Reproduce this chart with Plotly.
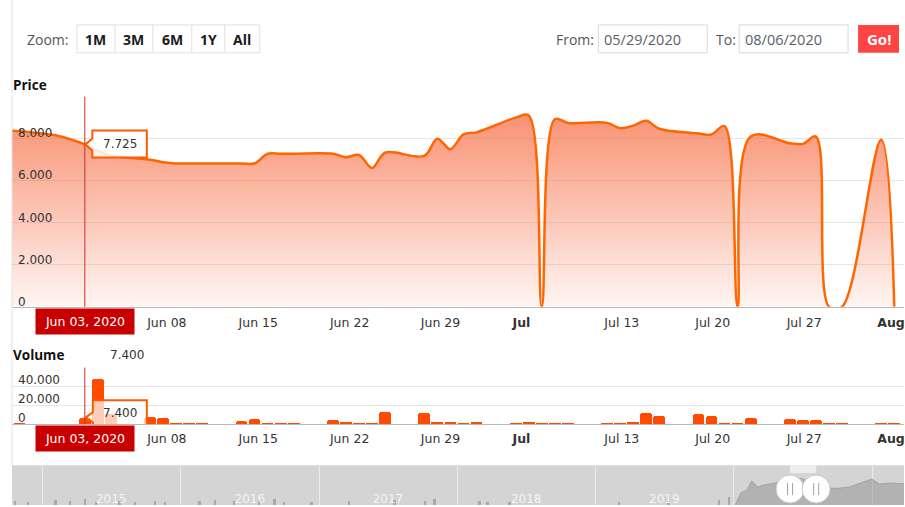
import plotly.graph_objects as go

# ---------------- data ----------------
DATES = ["2020-05-28", "2020-05-29",
         "2020-06-01", "2020-06-02", "2020-06-03", "2020-06-04", "2020-06-05",
         "2020-06-08", "2020-06-09", "2020-06-10", "2020-06-11", "2020-06-12",
         "2020-06-15", "2020-06-16", "2020-06-17", "2020-06-18", "2020-06-19",
         "2020-06-22", "2020-06-23", "2020-06-24", "2020-06-25", "2020-06-26",
         "2020-06-29", "2020-06-30", "2020-07-01", "2020-07-02", "2020-07-03",
         "2020-07-06", "2020-07-07", "2020-07-08", "2020-07-09", "2020-07-10",
         "2020-07-13", "2020-07-14", "2020-07-15", "2020-07-16", "2020-07-17",
         "2020-07-20", "2020-07-21", "2020-07-22", "2020-07-23", "2020-07-24",
         "2020-07-27", "2020-07-28", "2020-07-29", "2020-07-30", "2020-07-31",
         "2020-08-03", "2020-08-04"]
PRICE = [8380, 8350,
         8130, 7950, 7725, 7420, 7200,
         7000, 6880, 6820, 6820, 6820,
         6820, 6820, 7280, 7280, 7280,
         7280, 7120, 7220, 6600, 7330,
         7180, 8000, 7500, 8200, 8300,
         9000, 9100, 0, 8920, 8750,
         8750, 8500, 8620, 8850, 8470,
         8250, 8200, 8600, 0, 8100,
         7780, 7750, 8100, 0, 0,
         7950, 0]
VOLUME = [1200, 1200,
          0, 0, 7400, 48300, 11500,
          8000, 7000, 1500, 1500, 1200,
          4500, 6000, 1500, 1500, 1200,
          5200, 2800, 1800, 1200, 13000,
          12000, 2800, 2800, 1800, 2800,
          1200, 2800, 1200, 1200, 2200,
          1500, 1200, 2800, 12000, 9700,
          11000, 9700, 1200, 1200, 7200,
          6200, 5200, 5200, 1200, 1200,
          2200, 1200]

X_RANGE = ["2020-05-28 10:07", "2020-08-04 17:54"]
TICK_POS = ["2020-06-09 06:45", "2020-06-16 06:46", "2020-06-23 06:48",
            "2020-06-30 05:53", "2020-07-06 10:38", "2020-07-14 03:10",
            "2020-07-21 02:17", "2020-07-28 02:17", "2020-08-03 18:00"]
TICK_TEXT = ["Jun 08", "Jun 15", "Jun 22", "Jun 29", "<b>Jul</b>",
             "Jul 13", "Jul 20", "Jul 27", "<b>Aug</b>"]

PRICE_TICKS = [0, 2000, 4000, 6000, 8000, 10000]
PRICE_TICK_TEXT = ["0", "2.000", "4.000", "6.000", "8.000", ""]
VOL_TICKS = [0, 20000, 40000, 60000]
VOL_TICK_TEXT = ["0", "20.000", "40.000", ""]

HOVER_DATE = "2020-06-03"
HOVER_LABEL = "Jun 03, 2020"
FROM_DATE = "05/29/2020"
TO_DATE = "08/06/2020"
FROM_ISO = "2020-05-29"
TO_ISO = "2020-08-06"
ZOOM_BUTTONS = ["1M", "3M", "6M", "1Y", "All"]

# navigator (long history, rough estimates)
NAV_RANGE = ["2014-10-13", "2021-03-26"]
NAV_YEAR_POS = ["2015-07-02", "2016-07-02", "2017-07-02", "2018-07-02", "2019-07-02"]
NAV_YEAR_TEXT = ["2015", "2016", "2017", "2018", "2019"]
NAV_YEAR_LINES = ["2015-01-01", "2016-01-01", "2017-01-01", "2018-01-01",
                  "2019-01-01", "2020-01-01", "2021-01-01"]
NAV_SPIKE_DATES = ["2014-10-20", "2014-11-24", "2015-02-05", "2015-03-15", "2015-04-24",
                   "2015-05-22", "2015-07-24", "2015-09-02", "2015-10-26", "2015-11-21",
                   "2016-02-20", "2016-04-01", "2016-05-22", "2016-07-27", "2016-09-05",
                   "2016-10-01", "2016-12-12", "2017-03-22", "2017-07-19", "2017-10-07",
                   "2017-11-02", "2018-03-01", "2018-03-22", "2018-05-19", "2019-03-04",
                   "2019-07-13", "2019-11-23", "2019-12-20"]
NAV_SPIKE_VALUES = [1200, 900, 1500, 1200, 1800,
                    900, 1200, 900, 1200, 900,
                    1200, 1500, 1200, 1500, 1800,
                    900, 900, 1200, 1500, 1200,
                    1800, 1200, 900, 900, 900,
                    1200, 1500, 2400]
NAV_AREA_DATES = ["2020-01-05", "2020-01-20", "2020-02-05", "2020-02-18", "2020-03-05",
                  "2020-03-20", "2020-04-05", "2020-05-01", "2020-06-01", "2020-07-01",
                  "2020-08-01", "2020-09-01", "2020-10-01", "2020-11-01", "2020-12-01",
                  "2020-12-31", "2021-01-20", "2021-02-15", "2021-03-26"]
NAV_AREA_VALUES = [0, 3600, 4500, 7200, 5400,
                   6000, 6300, 7000, 7700, 8000,
                   6000, 5100, 5000, 5400, 6600,
                   7800, 6300, 6600, 6400]

# ---------------- layout helpers (pixel -> paper) ----------------
W, H, L = 905, 507, 12
PW = W - L


def px(x):
    return (x - L) / PW


def py(y):
    return 1 - y / H


def fmt(v):
    return f"{v:,}".replace(",", ".")


AXIS_FONT = dict(family="DejaVu Sans", size=12.5, color="#333333")
TICK_FONT = dict(family="DejaVu Sans", size=12, color="#333333")
UI_FONT = "Open Sans"

hi = DATES.index(HOVER_DATE)
hover_price = PRICE[hi]
hover_vol = VOLUME[hi]

fig = go.Figure()

# price area
fig.add_trace(go.Scatter(
    x=DATES, y=PRICE, mode="lines",
    line=dict(color="#ff6600", width=2.5, shape="spline", smoothing=1.0),
    fill="tozeroy",
    fillgradient=dict(type="vertical", start=0, stop=9100,
                      colorscale=[[0, "rgba(245,100,56,0.06)"],
                                  [1, "rgba(245,100,56,0.70)"]]),
    xaxis="x", yaxis="y", hoverinfo="skip", showlegend=False))

# volume bars
fig.add_trace(go.Bar(
    x=DATES, y=VOLUME, marker=dict(color="#ff4a00", line=dict(width=0), cornerradius=3),
    width=0.9 * 86400000, xaxis="x2", yaxis="y2", hoverinfo="skip", showlegend=False))

# navigator series
fig.add_trace(go.Bar(
    x=NAV_SPIKE_DATES, y=NAV_SPIKE_VALUES, marker=dict(color="#a8a8a8", line=dict(width=0)),
    width=6 * 86400000, xaxis="x3", yaxis="y3", hoverinfo="skip", showlegend=False))
fig.add_trace(go.Scatter(
    x=NAV_AREA_DATES, y=NAV_AREA_VALUES, mode="lines",
    line=dict(color="#9a9a9a", width=0.8), fill="tozeroy",
    fillcolor="rgba(150,150,150,0.55)",
    xaxis="x3", yaxis="y3", hoverinfo="skip", showlegend=False))

shapes = []
ann = []

# left frame line
shapes.append(dict(type="line", xref="paper", yref="paper", x0=0, x1=0,
                   y0=py(467), y1=1, line=dict(color="#e3e3e3", width=1)))

# crosshair
for yr in ["y domain", "y2 domain"]:
    shapes.append(dict(type="line", xref="x", yref=yr, x0=HOVER_DATE, x1=HOVER_DATE,
                       y0=0, y1=1, line=dict(color="#d42a2a", width=1), layer="above"))

# tooltips (callout boxes) anchored at hovered point
shapes.append(dict(type="path", xref="x", yref="y", xsizemode="pixel", ysizemode="pixel",
                   xanchor=HOVER_DATE, yanchor=hover_price,
                   path="M7.5,14 L62,14 L62,-13 L7.5,-13 L7.5,-6 L0.5,0 L7.5,6 Z",
                   fillcolor="rgba(255,255,255,0.85)", line=dict(color="#ff5a00", width=2),
                   layer="above"))
ann.append(dict(x=HOVER_DATE, y=hover_price, xref="x", yref="y", xshift=35,
                text=fmt(hover_price), showarrow=False, xanchor="center", yanchor="middle",
                font=TICK_FONT))
shapes.append(dict(type="path", xref="x2", yref="y2", xsizemode="pixel", ysizemode="pixel",
                   xanchor=HOVER_DATE, yanchor=hover_vol,
                   path="M8,17 L62,17 L62,-8 L8,-8 L8,-5 L1,0 L8,5 Z",
                   fillcolor="rgba(255,255,255,0.72)", line=dict(color="#ff5a00", width=2),
                   layer="above"))
ann.append(dict(x=HOVER_DATE, y=hover_vol, xref="x2", yref="y2", xshift=35, yshift=4.5,
                text=fmt(hover_vol), showarrow=False, xanchor="center", yanchor="middle",
                font=TICK_FONT))

# date labels under axes
for xr, yr, ysh in [("x", "y domain", -1.5), ("x2", "y2 domain", -1.0)]:
    ann.append(dict(x=HOVER_DATE, y=0, xref=xr, yref=yr,
                    yshift=ysh, text=HOVER_LABEL, showarrow=False, xanchor="center",
                    yanchor="top", bgcolor="#c80000", borderpad=0, width=98, height=25,
                    font=dict(family="DejaVu Sans", size=12.5, color="white")))

# pane titles
ann.append(dict(x=px(11), y=py(85), xref="paper", yref="paper", text="<b>Price</b>",
                showarrow=False, xanchor="left", yanchor="middle",
                font=dict(family=UI_FONT, size=13.5, color="#111111")))
ann.append(dict(x=px(11), y=py(356), xref="paper", yref="paper", text="<b>Volume</b>",
                showarrow=False, xanchor="left", yanchor="middle",
                font=dict(family=UI_FONT, size=13.5, color="#111111")))
ann.append(dict(x=px(108), y=py(356), xref="paper", yref="paper", text=fmt(hover_vol),
                showarrow=False, xanchor="left", yanchor="middle", font=TICK_FONT))

# ---- top controls ----
ann.append(dict(x=px(48), y=py(40), xref="paper", yref="paper", text="Zoom:",
                showarrow=False, xanchor="center", yanchor="middle",
                font=dict(family=UI_FONT, size=14, color="#555555")))
edges = [77, 115, 153, 192, 225, 260]
shapes.append(dict(type="rect", xref="paper", yref="paper", x0=px(edges[0]), x1=px(edges[-1]),
                   y0=py(53), y1=py(25), line=dict(color="#e0e0e0", width=1),
                   fillcolor="white"))
for i, lab in enumerate(ZOOM_BUTTONS):
    if 0 < i:
        shapes.append(dict(type="line", xref="paper", yref="paper", x0=px(edges[i]),
                           x1=px(edges[i]), y0=py(53), y1=py(25),
                           line=dict(color="#e0e0e0", width=1)))
    ann.append(dict(x=px((edges[i] + edges[i + 1]) / 2), y=py(39.5), xref="paper",
                    yref="paper", text=f"<b>{lab}</b>", showarrow=False, xanchor="center",
                    yanchor="middle", font=dict(family=UI_FONT, size=14, color="#1a1a1a")))

ann.append(dict(x=px(576), y=py(40), xref="paper", yref="paper", text="From:",
                showarrow=False, xanchor="center", yanchor="middle",
                font=dict(family=UI_FONT, size=14, color="#555555")))
ann.append(dict(x=px(726.5), y=py(40), xref="paper", yref="paper", text="To:",
                showarrow=False, xanchor="center", yanchor="middle",
                font=dict(family=UI_FONT, size=14, color="#555555")))
for (x0, x1, txt) in [(599, 708, FROM_DATE), (740, 849, TO_DATE)]:
    shapes.append(dict(type="rect", xref="paper", yref="paper", x0=px(x0), x1=px(x1),
                       y0=py(53), y1=py(25), line=dict(color="#d6d9de", width=1),
                       fillcolor="white"))
    ann.append(dict(x=px(x0 + 4), y=py(39.5), xref="paper", yref="paper", text=txt,
                    showarrow=False, xanchor="left", yanchor="middle",
                    font=dict(family=UI_FONT, size=14.5, color="#5b6068")))
shapes.append(dict(type="rect", xref="paper", yref="paper", x0=px(859), x1=px(900),
                   y0=py(53), y1=py(25), line=dict(width=0), fillcolor="#ff4444"))
ann.append(dict(x=px(879.5), y=py(39.5), xref="paper", yref="paper", text="<b>Go!</b>",
                showarrow=False, xanchor="center", yanchor="middle",
                font=dict(family=UI_FONT, size=15, color="white")))

# ---- navigator ----
shapes.append(dict(type="rect", xref="x3 domain", yref="y3 domain", x0=0, x1=1, y0=0, y1=1,
                   fillcolor="#d4d4d4", line=dict(width=0), layer="below"))
shapes.append(dict(type="rect", xref="x3", yref="y3 domain", x0=FROM_ISO, x1=TO_ISO,
                   y0=0.8, y1=1, fillcolor="rgba(240,240,240,0.9)", line=dict(width=0),
                   layer="above"))
for d in [FROM_ISO, TO_ISO]:
    shapes.append(dict(type="circle", xref="x3", yref="y3", xsizemode="pixel",
                       ysizemode="pixel", xanchor=d, yanchor=4800, x0=-14, x1=14,
                       y0=-14, y1=14, fillcolor="white",
                       line=dict(color="#c6c6c6", width=1), layer="above"))
    for dx in (-2.5, 2.5):
        shapes.append(dict(type="line", xref="x3", yref="y3", xsizemode="pixel",
                           ysizemode="pixel", xanchor=d, yanchor=4800, x0=dx, x1=dx,
                           y0=-6, y1=6, line=dict(color="#a0a0a0", width=1), layer="above"))

fig.update_layout(
    width=W, height=H,
    margin=dict(l=L, r=0, t=0, b=0),
    paper_bgcolor="white", plot_bgcolor="white",
    showlegend=False, hovermode=False, bargap=0,
    shapes=shapes, annotations=ann,
    xaxis=dict(domain=[0, 1], anchor="y", type="date", range=X_RANGE,
               tickmode="array", tickvals=TICK_POS, ticktext=TICK_TEXT,
               ticklabeloverflow="allow",
               showgrid=False, showline=True, linecolor="#b8b8b8", linewidth=1,
               ticks="outside", ticklen=4, tickcolor="rgba(0,0,0,0)",
               tickfont=AXIS_FONT, zeroline=False, fixedrange=True),
    yaxis=dict(domain=[py(308), py(97)], anchor="x", range=[0, 10000],
               tickmode="array", tickvals=PRICE_TICKS, ticktext=PRICE_TICK_TEXT,
               ticklabelposition="inside top", ticklabelshift=3, ticklabelstandoff=3,
               ticklabeloverflow="allow", tickfont=TICK_FONT,
               showgrid=True, gridcolor="#e6e6e6", gridwidth=1, zeroline=False,
               showline=False, fixedrange=True),
    xaxis2=dict(domain=[0, 1], anchor="y2", type="date", range=X_RANGE, matches="x",
                tickmode="array", tickvals=TICK_POS, ticktext=TICK_TEXT,
                ticklabeloverflow="allow",
                showgrid=False, showline=True, linecolor="#b8b8b8", linewidth=1,
                ticks="outside", ticklen=3, tickcolor="rgba(0,0,0,0)",
                tickfont=AXIS_FONT, zeroline=False, fixedrange=True),
    yaxis2=dict(domain=[py(426), py(369)], anchor="x2", range=[0, 60000],
                tickmode="array", tickvals=VOL_TICKS, ticktext=VOL_TICK_TEXT,
                ticklabelposition="inside top", ticklabelshift=2, ticklabelstandoff=3,
                ticklabeloverflow="allow", tickfont=TICK_FONT,
                showgrid=True, gridcolor="#e6e6e6", gridwidth=1, zeroline=False,
                showline=False, fixedrange=True),
    xaxis3=dict(domain=[0, 1], anchor="y3", type="date", range=NAV_RANGE,
                tickmode="array", tickvals=NAV_YEAR_POS, ticktext=NAV_YEAR_TEXT,
                ticklabelposition="inside", ticklabelstandoff=-3, showgrid=False,
                showline=False,
                tickfont=dict(family="DejaVu Sans", size=12, color="#f4f4f4"),
                minor=dict(tickmode="array", tickvals=NAV_YEAR_LINES, showgrid=True,
                           gridcolor="#ebebeb", gridwidth=1),
                zeroline=False, fixedrange=True),
    yaxis3=dict(domain=[0, py(467)], anchor="x3", range=[0, 12000], visible=False,
                showgrid=False, fixedrange=True),
)

fig.write_html("out.html", config={"displayModeBar": False},
               post_script="document.body.style.margin='0';"
                           "document.body.style.overflow='hidden';")
